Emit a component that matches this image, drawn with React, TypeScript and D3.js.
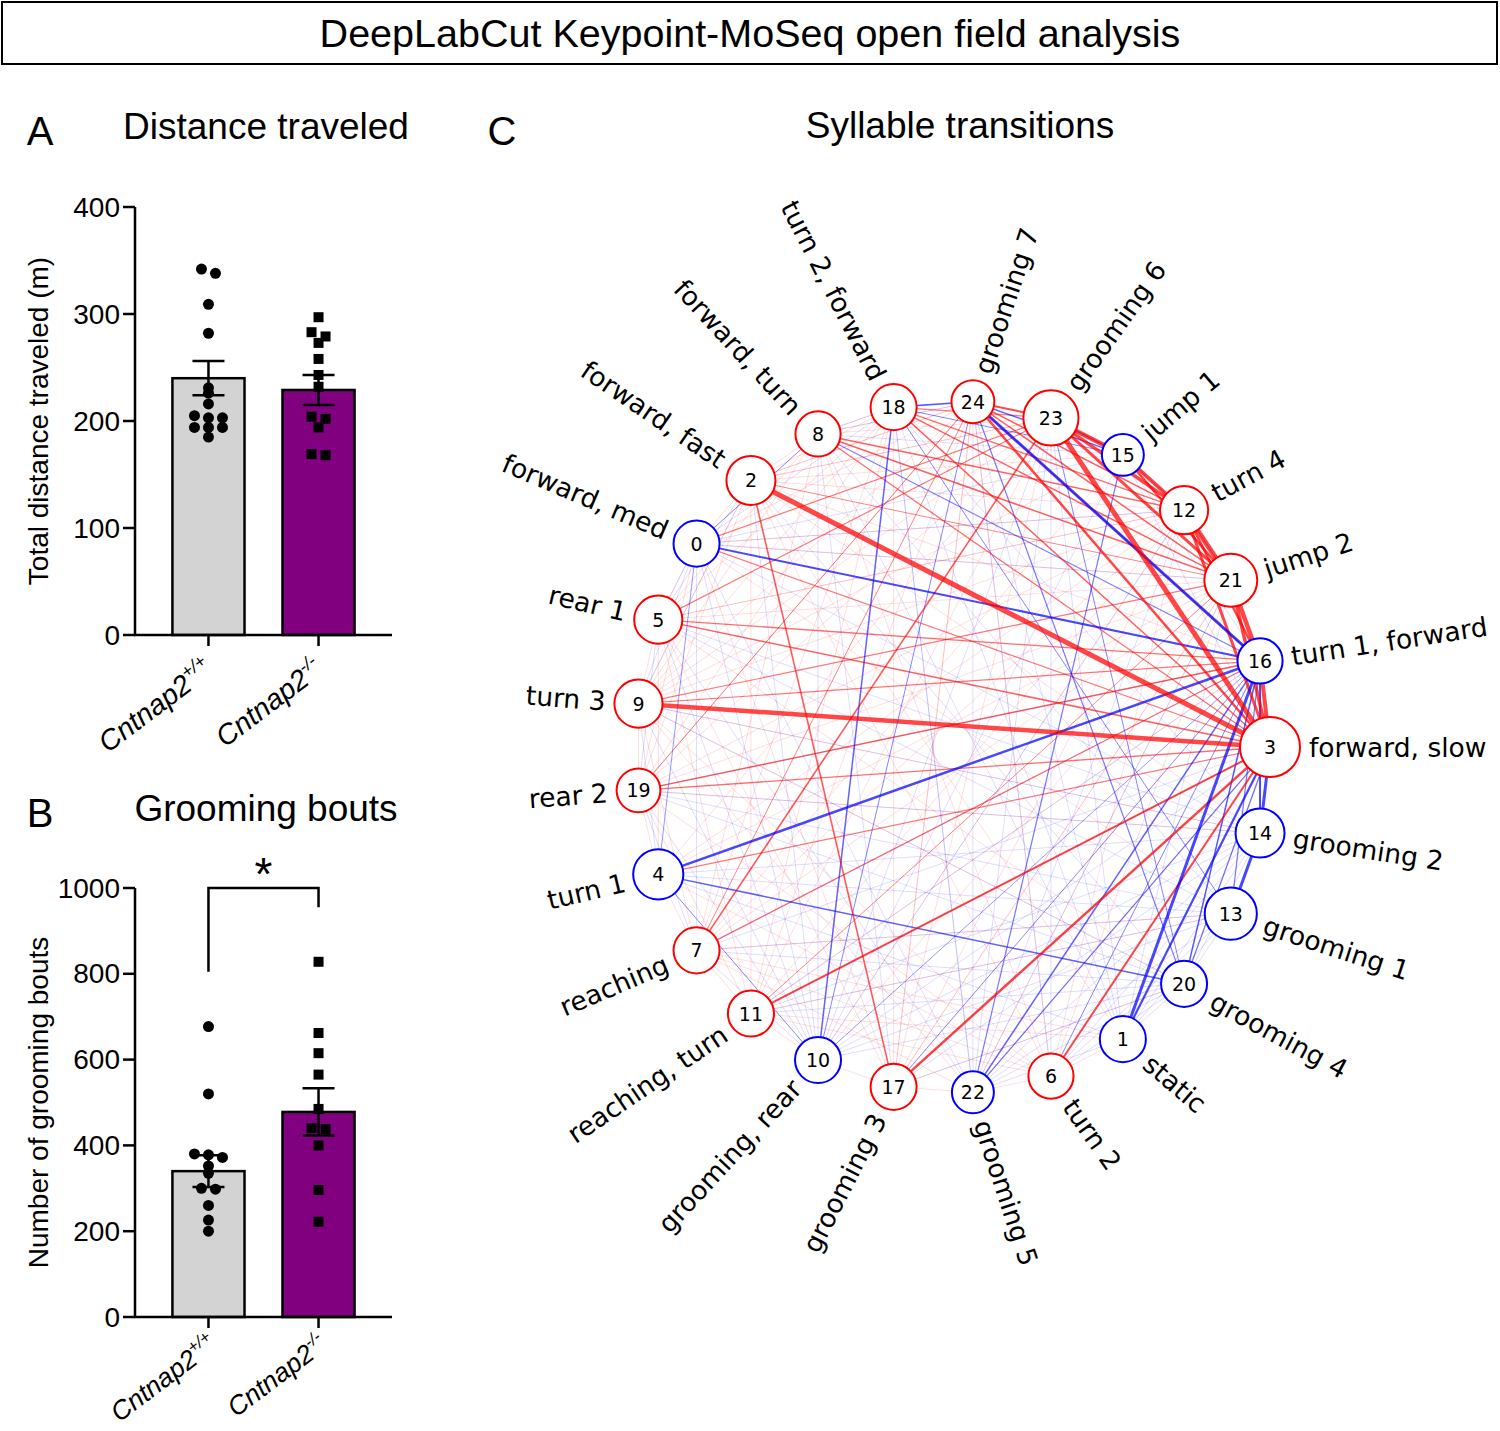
import React from 'react';
import * as d3 from 'd3';

// ---------------- DATA ----------------
const groupKeys = ['wt', 'ko'];
const groupBase = 'Cntnap2';
const groupSup = ['+/+', '-/-'];
const groupFill = ['#d3d3d3', '#800080'];

const distTicks = [0, 100, 200, 300, 400];
const distMeans = [240, 229];
const distSem = [16, 14];
const distWT = [342, 338, 309, 282, 231, 226, 216, 205, 203, 203, 194, 194, 194, 185];
const distKO = [297, 283, 279, 273, 258, 243, 232, 204, 202, 194, 168, 169];

const groomTicks = [0, 200, 400, 600, 800, 1000];
const groomMeans = [340, 478];
const groomSem = [37, 55];
const groomWT = [677, 520, 380, 378, 372, 352, 335, 300, 298, 260, 226, 200];
const groomKO = [828, 662, 615, 565, 485, 440, 438, 400, 296, 222];

// syllable ids placed counter-clockwise starting at the right
const nodeOrder = [3, 16, 21, 12, 15, 23, 24, 18, 8, 2, 0, 5, 9, 19, 4, 7, 11, 10, 17, 22, 6, 1, 20, 13, 14];
const syllableNames = [
  'forward, med', 'static', 'forward, fast', 'forward, slow', 'turn 1', 'rear 1', 'turn 2', 'reaching',
  'forward, turn', 'turn 3', 'grooming, rear', 'reaching, turn', 'turn 4', 'grooming 1', 'grooming 2',
  'jump 1', 'turn 1, forward', 'grooming 3', 'turn 2, forward', 'rear 2', 'grooming 4', 'jump 2',
  'grooming 5', 'grooming 6', 'grooming 7',
];
const nodeUsage = [5.3, 5.3, 6.0, 9.0, 6.3, 5.8, 5.1, 5.3, 5.1, 5.8, 5.3, 5.3, 5.8, 6.8, 6.0, 4.4, 5.1, 5.3, 5.3, 4.8, 5.3, 7.0, 4.4, 7.6, 4.6];
const blueNodes = [0, 1, 4, 10, 13, 14, 15, 16, 20, 22];

// [from, to, weight]
const redEdges: [number, number, number][] = [
  [2, 3, 5], [9, 3, 4.5], [23, 3, 5], [23, 15, 4.5], [15, 12, 4], [12, 21, 5], [21, 16, 4.5], [16, 3, 4],
  [21, 3, 3.5], [23, 12, 3.5], [12, 3, 3], [23, 21, 3], [24, 3, 2.5], [15, 21, 2.5], [12, 16, 2.5], [24, 23, 2],
  [17, 3, 2.5], [11, 3, 2], [6, 3, 2], [2, 17, 1.6], [7, 23, 1.6], [5, 3, 1.5], [5, 16, 1.3], [19, 16, 1.5],
  [8, 12, 1.5], [8, 21, 1.5], [18, 3, 1.5], [18, 21, 1.5], [24, 21, 1.5], [24, 12, 1.5], [24, 16, 1.3],
  [18, 12, 1.3], [9, 21, 1.2], [0, 23, 1.2], [5, 23, 1.2], [8, 3, 1.3], [0, 3, 1.2], [19, 3, 1.3], [7, 16, 1.2],
  [11, 21, 1.0], [4, 3, 1.2], [18, 23, 1.2], [2, 21, 1.0], [9, 16, 1.2], [7, 24, 1.0], [19, 24, 1.0],
];
const blueEdges: [number, number, number][] = [
  [24, 16, 3], [0, 16, 2], [4, 16, 2.5], [1, 16, 3], [1, 3, 2.2], [14, 3, 3], [14, 13, 3], [16, 14, 2],
  [20, 16, 1.5], [20, 3, 1.3], [22, 16, 1.5], [22, 3, 1.2], [18, 10, 1.5], [18, 24, 1.6], [24, 15, 1.5],
  [23, 15, 1.5], [4, 20, 1.5], [4, 10, 1.0], [8, 16, 1.1], [0, 8, 0.9], [22, 15, 1.2], [20, 24, 1.2],
  [20, 23, 1.0], [18, 13, 1.0], [10, 24, 1.0], [15, 12, 1.0], [12, 21, 1.0], [0, 4, 0.9], [18, 15, 1.0],
  [13, 16, 1.2], [10, 16, 0.9], [17, 16, 0.9], [6, 16, 1.0],
];
const faintRed: [number, number][] = [
  [5, 21], [5, 12], [9, 12], [9, 24], [19, 21], [19, 12], [19, 23], [4, 12], [4, 21], [7, 21], [7, 12], [11, 16],
  [11, 12], [17, 21], [17, 12], [6, 21], [6, 12], [2, 12], [2, 16], [2, 23], [2, 24], [8, 23], [8, 24],
  [8, 18], [2, 8], [0, 2], [0, 5], [5, 9], [9, 19], [19, 4], [4, 7], [7, 11], [11, 10], [10, 17], [17, 22], [22, 6],
  [6, 1], [2, 9], [8, 9], [18, 9], [18, 5], [18, 19], [24, 19], [23, 9], [23, 4], [23, 11], [23, 17], [24, 17],
  [24, 11], [18, 7], [18, 11], [18, 17], [21, 17], [3, 22], [16, 17], [21, 0], [12, 0], [12, 5], [2, 11], [8, 7],
  [0, 17], [5, 17], [9, 6], [19, 6], [4, 6], [7, 6], [11, 6], [2, 6], [8, 6], [5, 11], [9, 7], [19, 11], [0, 19],
  [5, 4], [2, 19], [8, 5], [8, 0], [24, 0], [24, 2], [18, 2], [23, 2], [15, 2], [15, 9], [15, 7], [13, 7], [14, 9],
  [14, 19], [13, 11], [20, 9], [20, 17], [1, 7], [1, 11], [14, 2], [13, 0], [20, 5], [22, 7], [22, 9], [1, 2],
  [6, 24], [17, 24], [10, 21], [10, 12], [22, 21],
];
const faintBlue: [number, number][] = [
  [0, 9], [0, 7], [0, 10], [0, 22], [0, 12], [0, 21], [0, 14], [5, 10], [5, 22], [5, 14], [5, 13], [9, 10], [9, 14],
  [9, 20], [19, 14], [19, 13], [19, 20], [19, 10], [4, 14], [4, 13], [4, 1], [7, 10], [7, 13], [7, 20], [11, 20],
  [11, 13], [11, 14], [10, 13], [10, 14], [10, 20], [10, 3], [17, 14], [17, 20], [22, 14], [22, 13], [22, 20],
  [22, 24], [22, 18], [1, 24], [1, 23], [1, 18], [1, 8], [20, 2], [13, 8], [14, 18], [15, 16], [15, 3], [15, 8],
  [15, 0], [15, 10], [16, 20], [24, 8], [18, 0], [2, 5], [13, 1], [20, 1], [14, 20], [6, 14], [6, 20], [9, 4],
  [19, 7], [5, 19], [0, 5], [2, 10], [8, 10], [8, 17], [18, 22], [24, 6], [23, 22], [23, 6], [23, 10], [12, 22],
  [12, 10], [21, 22], [21, 1], [16, 11], [16, 7], [16, 19], [3, 7], [3, 11], [3, 17], [14, 1], [13, 20], [13, 6],
  [1, 22], [9, 2], [18, 8],
];

// ---------------- STYLE ----------------
const FONT = "'Liberation Sans', Arial, Helvetica, sans-serif";
const NFONT = "'DejaVu Sans', Verdana, sans-serif";
const RED = '#ff0000';
const BLUE = '#0000ff';

function swarmOffsets(vals: number[], y: (v: number) => number, thr: number, step: number): number[] {
  const idx = vals.map((_, i) => i).sort((a, b) => vals[b] - vals[a]);
  const off = new Array(vals.length).fill(0);
  let cl: number[] = [];
  const flush = () => {
    const n = cl.length;
    cl.forEach((id, k) => { off[id] = (k - (n - 1) / 2) * step; });
    cl = [];
  };
  idx.forEach((i) => {
    if (cl.length && Math.abs(y(vals[i]) - y(vals[cl[0]])) > thr) flush();
    cl.push(i);
  });
  flush();
  return off;
}

type BarProps = {
  y0: number; y1: number; max: number; ticks: number[]; means: number[]; sems: number[];
  wt: number[]; ko: number[]; yTitle: string; letter: string; title: string; titleY: number; sig?: boolean;
  labelDx: number; labelDy: number; labelSize: number;
};

function BarPanel(p: BarProps) {
  const y = d3.scaleLinear().domain([0, p.max]).range([p.y0, p.y1]);
  const x = d3.scaleBand<string>().domain(groupKeys).range([135, 392]).paddingInner(0.345).paddingOuter(0.34);
  const bw = x.bandwidth();
  const cx = (k: string) => (x(k) as number) + bw / 2;
  const offW = swarmOffsets(p.wt, y, 5, 14);
  const offK = swarmOffsets(p.ko, y, 5, 14);
  const sw = 2.5;
  return (
    <g>
      <text x={40} y={p.titleY + 6} fontFamily={FONT} fontSize={40} textAnchor="middle">{p.letter}</text>
      <text x={266} y={p.titleY} fontFamily={FONT} fontSize={37} textAnchor="middle">{p.title}</text>
      <text transform={`translate(38,${(p.y0 + p.y1) / 2}) rotate(-90)`} fontFamily={FONT} fontSize={28}
        textAnchor="middle" dominantBaseline="central">{p.yTitle}</text>
      {/* bars */}
      {groupKeys.map((k, i) => (
        <rect key={k} x={x(k)} y={y(p.means[i])} width={bw} height={p.y0 - y(p.means[i])}
          fill={groupFill[i]} stroke="#000" strokeWidth={sw} />
      ))}
      {/* dots */}
      {p.wt.map((v, i) => (
        <circle key={'w' + i} cx={cx('wt') + offW[i]} cy={y(v)} r={5.5} fill="#000" />
      ))}
      {p.ko.map((v, i) => (
        <rect key={'k' + i} x={cx('ko') + offK[i] - 5} y={y(v) - 5} width={10} height={10} fill="#000" />
      ))}
      {/* error bars */}
      {groupKeys.map((k, i) => {
        const c = cx(k);
        const lo = y(p.means[i] - p.sems[i]);
        const hi = y(p.means[i] + p.sems[i]);
        return (
          <g key={'e' + k} stroke="#000" strokeWidth={sw}>
            <line x1={c} x2={c} y1={lo} y2={hi} />
            <line x1={c - 16} x2={c + 16} y1={hi} y2={hi} />
            <line x1={c - 16} x2={c + 16} y1={lo} y2={lo} />
          </g>
        );
      })}
      {/* axes */}
      <line x1={135} x2={135} y1={p.y0} y2={p.y1} stroke="#000" strokeWidth={sw} />
      <line x1={134} x2={392} y1={p.y0} y2={p.y0} stroke="#000" strokeWidth={sw} />
      {p.ticks.map((t) => (
        <g key={t}>
          <line x1={123} x2={135} y1={y(t)} y2={y(t)} stroke="#000" strokeWidth={sw} />
          <text x={120} y={y(t)} fontFamily={FONT} fontSize={28} textAnchor="end" dominantBaseline="central">{t}</text>
        </g>
      ))}
      {groupKeys.map((k, i) => (
        <g key={'x' + k}>
          <line x1={cx(k)} x2={cx(k)} y1={p.y0} y2={p.y0 + 11} stroke="#000" strokeWidth={sw} />
          <text transform={`translate(${cx(k) + p.labelDx},${p.y0 + p.labelDy}) rotate(-37)`} fontFamily={FONT}
            fontSize={p.labelSize} fontStyle="italic" textAnchor="end">
            {groupBase}<tspan dy={-p.labelSize * 0.42} fontSize={p.labelSize * 0.63}>{groupSup[i]}</tspan>
          </text>
        </g>
      ))}
      {p.sig && (
        <g>
          <path d={`M${cx('wt')},${y(805)} V${y(1000)} H${cx('ko')} V${y(955)}`} fill="none" stroke="#000" strokeWidth={sw} />
          <text x={(cx('wt') + cx('ko')) / 2} y={y(1000) + 2} fontFamily={FONT} fontSize={46} textAnchor="middle">*</text>
        </g>
      )}
    </g>
  );
}

function labelTilt(phiDeg: number): number {
  const a = Math.abs(phiDeg);
  return a * (0.6 + 0.25 * Math.pow(a / 90, 2));
}

function Network() {
  const cx = 953, cy = 747, rx = 317, ry = 346;
  const n = nodeOrder.length;
  const ang = d3.scaleLinear().domain([0, n]).range([0, 2 * Math.PI]);
  const rScale = d3.scaleSqrt().domain([0, d3.max(nodeUsage) as number]).range([0, 30]);
  const pos: Record<number, { x: number; y: number; a: number }> = {};
  nodeOrder.forEach((id, i) => {
    const a = ang(i);
    pos[id] = { x: cx + rx * Math.cos(a), y: cy - ry * Math.sin(a), a };
  });
  const blueSet = new Set(blueNodes);
  const strong = [
    ...redEdges.map((e) => ({ s: e[0], t: e[1], w: e[2], c: RED })),
    ...blueEdges.map((e) => ({ s: e[0], t: e[1], w: e[2], c: BLUE })),
  ].sort((a, b) => a.w - b.w);
  const faint = [
    ...faintRed.map((e) => ({ s: e[0], t: e[1], c: RED })),
    ...faintBlue.map((e) => ({ s: e[0], t: e[1], c: BLUE })),
  ];
  return (
    <g>
      <text x={502} y={145} fontFamily={FONT} fontSize={40} textAnchor="middle">C</text>
      <text x={960} y={138} fontFamily={FONT} fontSize={37} textAnchor="middle">Syllable transitions</text>
      <g>
        {faint.map((e, i) => (
          <line key={'f' + i} x1={pos[e.s].x} y1={pos[e.s].y} x2={pos[e.t].x} y2={pos[e.t].y}
            stroke={e.c} strokeWidth={0.9} strokeOpacity={0.15} />
        ))}
        {strong.map((e, i) => (
          <line key={'s' + i} x1={pos[e.s].x} y1={pos[e.s].y} x2={pos[e.t].x} y2={pos[e.t].y}
            stroke={e.c} strokeWidth={e.w} strokeOpacity={Math.min(0.72, 0.2 + 0.28 * e.w)} />
        ))}
      </g>
      {nodeOrder.map((id) => {
        const p = pos[id];
        const r = rScale(nodeUsage[id]);
        const deg = (p.a * 180) / Math.PI;
        const right = Math.cos(p.a) > 0.001;
        let psi = right ? deg : deg - 180;
        while (psi > 180) psi -= 360;
        while (psi <= -180) psi += 360;
        const rot = -Math.sign(psi) * labelTilt(psi);
        const rr = (rot * Math.PI) / 180;
        const d = r + 9;
        const lx = right ? p.x + d * Math.cos(rr) : p.x - d * Math.cos(rr);
        const ly = right ? p.y + d * Math.sin(rr) : p.y - d * Math.sin(rr);
        return (
          <g key={'n' + id}>
            <circle cx={p.x} cy={p.y} r={r} fill="#fff" stroke={blueSet.has(id) ? BLUE : RED} strokeWidth={2} />
            <text x={p.x} y={p.y} fontFamily={NFONT} fontSize={19} textAnchor="middle" dominantBaseline="central">{id}</text>
            <text transform={`translate(${lx},${ly}) rotate(${rot})`} fontFamily={NFONT} fontSize={26.5}
              textAnchor={right ? 'start' : 'end'} dominantBaseline="central">{syllableNames[id]}</text>
          </g>
        );
      })}
    </g>
  );
}

export default function App() {
  return (
    <svg width={1500} height={1431} style={{ position: 'absolute', left: 0, top: 0, background: '#fff' }}>
      <rect x={0} y={0} width={1500} height={1431} fill="#fff" />
      <rect x={2} y={2} width={1495} height={62} fill="none" stroke="#000" strokeWidth={2} />
      <text x={750} y={47} fontFamily={FONT} fontSize={39.5} textAnchor="middle">DeepLabCut Keypoint-MoSeq open field analysis</text>
      <BarPanel y0={635} y1={207} max={400} ticks={distTicks} means={distMeans} sems={distSem} wt={distWT} ko={distKO}
        yTitle="Total distance traveled (m)" letter="A" title="Distance traveled" titleY={139}
        labelDx={6} labelDy={38} labelSize={28.5} />
      <BarPanel y0={1317} y1={888} max={1000} ticks={groomTicks} means={groomMeans} sems={groomSem} wt={groomWT} ko={groomKO}
        yTitle="Number of grooming bouts" letter="B" title="Grooming bouts" titleY={821}
        labelDx={10} labelDy={31} labelSize={26.5} sig />
      <Network />
    </svg>
  );
}
